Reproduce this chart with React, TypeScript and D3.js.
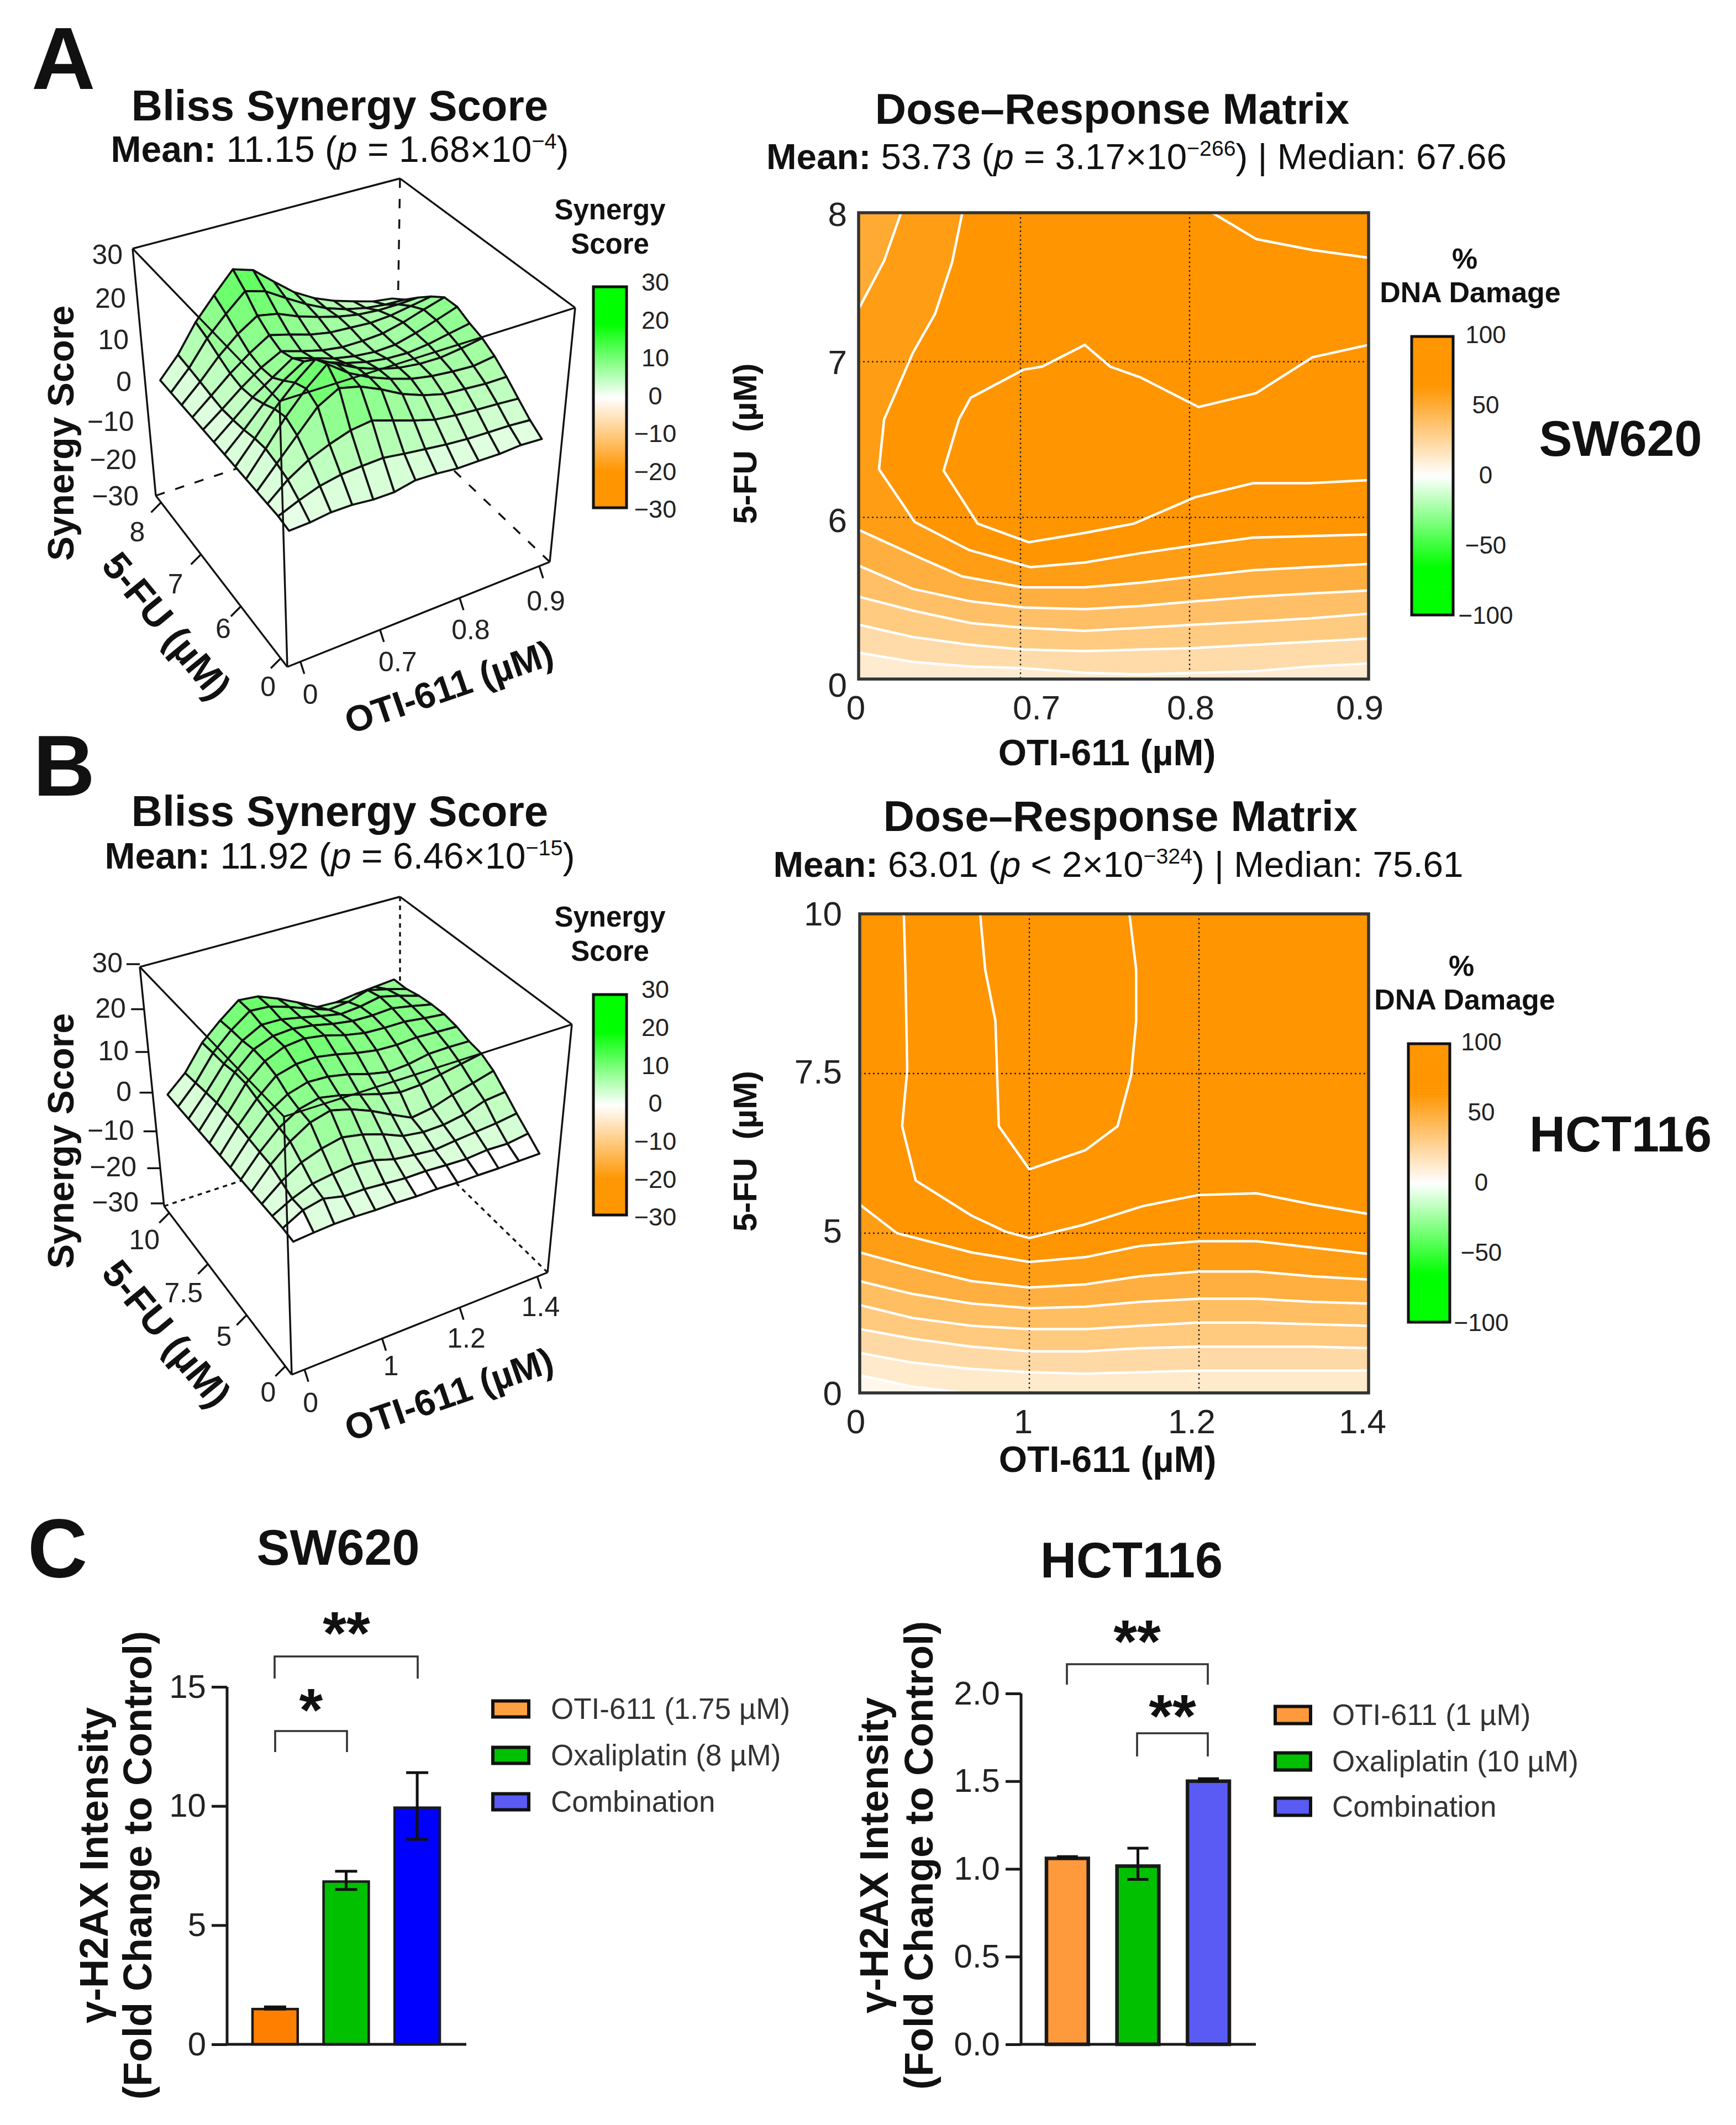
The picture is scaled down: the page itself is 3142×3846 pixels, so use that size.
import { useEffect, useRef } from "react";
import * as d3 from "d3";

const FONT = "'Liberation Sans', Arial, sans-serif";
const INK = "#111";
type Pt = [number, number];

// synergy surface values, rows are 5-FU steps (front to back), columns OTI-611 steps (left to right)
const SW620_SURFACE = [
  [2.5, 2.7, 3.3, 3.3, 2.8, 2.8, 3.8, 3.6, 3.1, 3.1, 3, 3.3, 3],
  [3, 4.9, 6.5, 7.4, 7.7, 7.9, 7.2, 6.6, 6, 5.6, 5.4, 5.3, 4.9],
  [3, 6.8, 9.6, 11.5, 13, 13.6, 12.1, 10.5, 9.1, 8.5, 8.1, 7.8, 7.4],
  [3, 7.7, 12.4, 17.1, 19.6, 18.5, 16.4, 13.9, 12.1, 10.8, 10.4, 10, 10],
  [3, 8.3, 13.8, 18.5, 22.3, 19, 16.6, 14.8, 13.3, 12.4, 11.9, 11.6, 12.3],
  [3, 7.9, 13, 17.3, 20.9, 18.5, 16.2, 14.5, 13.3, 12.7, 12.6, 13.2, 14],
  [3, 7.1, 11.5, 15.2, 18, 16.4, 14.8, 13.6, 12.9, 12.7, 13.2, 14.1, 15],
  [3, 6.6, 10.3, 13.3, 16.2, 14.8, 13.3, 12.4, 11.9, 12.1, 13.3, 14.8, 16.4],
  [3, 6.3, 9.8, 12.9, 15.2, 13.8, 12.6, 11.9, 11.9, 12.2, 13.3, 14.8, 16.2],
  [3, 6.6, 10.3, 13.5, 16.2, 15, 13.6, 12.7, 12.4, 12.1, 12.4, 13.2, 14],
  [3, 7, 11.5, 15.2, 18, 17.1, 15.2, 13.7, 12.4, 11.5, 11.1, 11.1, 11.3],
  [3, 7.4, 12.9, 17.1, 20.9, 19.6, 16.8, 14.1, 11.8, 10.2, 9.1, 8.5, 8.3],
  [3, 7.7, 13.9, 18.7, 23.2, 21.8, 18, 14.3, 11.6, 9.6, 8.1, 6.7, 6],
];

const HCT116_SURFACE = [
  [2.7, 3.1, 3.4, 3.4, 3.2, 3.2, 3, 3, 2.8, 2.8, 2.7, 2.7, 2.7],
  [3, 5.5, 6.5, 5.4, 5.4, 5, 4.6, 4.6, 4.3, 4.1, 4.5, 4.3, 5],
  [3, 5.4, 7.2, 7.9, 8.4, 7.8, 6.4, 5.8, 5.3, 5.8, 6.2, 6.6, 7.3],
  [3, 6.6, 9.4, 11, 12, 11.1, 9.6, 7.6, 6.9, 7, 7.8, 9.4, 9.9],
  [3, 7.7, 11.5, 14.3, 15.5, 14.3, 12.4, 10, 7.7, 8.4, 9.9, 11.1, 12.4],
  [3, 7.9, 12, 14.7, 15.8, 14.9, 13.6, 12.2, 11.1, 11.3, 12.2, 13.1, 14],
  [3, 8.2, 12.7, 15.5, 16.8, 16.6, 15.7, 14.3, 13.3, 13.6, 14.5, 14.6, 14.5],
  [3, 8.5, 13.3, 17.1, 18.3, 18.5, 17.7, 16.6, 15.8, 15.6, 15.9, 15.7, 15.5],
  [3, 8.5, 14.1, 17.8, 19.7, 20.2, 19.5, 18.2, 17.3, 17.1, 17.1, 16.5, 16],
  [3, 8.3, 14, 17.9, 19.6, 19.9, 19.3, 18.3, 17.6, 17.5, 17.8, 16.9, 15.9],
  [3, 7.9, 13.3, 17.3, 19.6, 19.5, 18.6, 17.6, 16.7, 17.1, 18, 16.9, 15.5],
  [3, 7.4, 13.1, 17.1, 20.2, 19.9, 18.5, 16.8, 15.2, 15.7, 17.1, 16, 14.7],
  [3, 6.9, 12.8, 16.7, 20.1, 19.7, 17.9, 15.7, 13.3, 13.1, 13.7, 14.1, 14.5],
];

const SYNERGY_TICKS = [30, 20, 10, 0, -10, -20, -30];
const DAMAGE_TICKS = [100, 50, 0, -50, -100];

const SW620_OTI = ["0", "0.7", "0.8", "0.9"];
const SW620_FU = ["0", "6", "7", "8"];
const HCT116_OTI = ["0", "1", "1.2", "1.4"];
const HCT116_FU = ["0", "5", "7.5", "10"];

// contour lines of the dose-response matrix, in dose steps [oti step, 5-FU step]
const SW620_CORNER: Pt[] = [[0, 2.38], [0.15, 2.69], [0.25, 3]];
const SW620_OUTER: Pt[] = [[0.61, 3], [0.55, 2.68], [0.45, 2.35], [0.32, 2.1], [0.15, 1.67], [0.12, 1.35], [0.33, 1.01], [0.65, 0.83], [1.01, 0.72], [1.33, 0.75], [1.66, 0.81], [1.98, 0.86], [2.32, 0.91], [2.65, 0.92], [3, 0.93]];
const SW620_INNER: Pt[] = [[3, 2.15], [2.67, 2.07], [2.34, 1.84], [2, 1.75], [1.66, 1.94], [1.48, 2.01], [1.33, 2.15], [1.08, 2.01], [0.97, 1.99], [0.66, 1.81], [0.59, 1.67], [0.5, 1.34], [0.7, 1], [1, 0.88], [1.33, 0.94], [1.62, 1], [1.98, 1.17], [2.32, 1.26], [2.65, 1.26], [3, 1.28]];
const SW620_TOP_RIGHT: Pt[] = [[2.08, 3], [2.34, 2.83], [2.67, 2.76], [3, 2.71]];
const SW620_BAND_1: Pt[] = [[0, 0.96], [0.36, 0.78], [0.61, 0.66], [0.97, 0.59], [1.33, 0.59], [1.66, 0.62], [1.98, 0.66], [2.32, 0.7], [2.65, 0.72], [3, 0.74]];
const SW620_BAND_2: Pt[] = [[0, 0.73], [0.32, 0.58], [0.66, 0.5], [0.97, 0.46], [1.33, 0.45], [1.66, 0.47], [1.98, 0.5], [2.32, 0.53], [2.65, 0.55], [3, 0.57]];
const SW620_BAND_3: Pt[] = [[0, 0.53], [0.32, 0.44], [0.66, 0.36], [0.97, 0.33], [1.33, 0.31], [1.66, 0.33], [1.98, 0.35], [2.32, 0.37], [2.65, 0.39], [3, 0.42]];
const SW620_BAND_4: Pt[] = [[0, 0.35], [0.32, 0.27], [0.66, 0.22], [0.97, 0.19], [1.33, 0.18], [1.66, 0.19], [1.98, 0.2], [2.32, 0.22], [2.65, 0.24], [3, 0.26]];
const SW620_BAND_5: Pt[] = [[0, 0.17], [0.32, 0.11], [0.66, 0.08], [0.97, 0.07], [1.33, 0.04], [1.66, 0.03], [1.98, 0.04], [2.32, 0.05], [2.65, 0.08], [3, 0.1]];

const HCT116_OUTER: Pt[] = [[0.26, 3], [0.27, 2.62], [0.28, 2.02], [0.25, 1.67], [0.33, 1.33], [0.66, 1.11], [0.86, 1.01], [1, 0.97], [1.31, 1.05], [1.67, 1.17], [2, 1.24], [2.34, 1.25], [2.67, 1.18], [3, 1.12]];
const HCT116_INNER: Pt[] = [[0.71, 3], [0.74, 2.65], [0.8, 2.33], [0.82, 1.67], [1, 1.4], [1.33, 1.52], [1.52, 1.67], [1.6, 1.99], [1.63, 2.33], [1.63, 2.65], [1.59, 3]];
const HCT116_BAND_1: Pt[] = [[0, 1.18], [0.22, 1], [0.66, 0.88], [1, 0.82], [1.33, 0.85], [1.65, 0.92], [2, 0.95], [2.34, 0.95], [2.67, 0.91], [3, 0.87]];
const HCT116_BAND_2: Pt[] = [[0, 0.88], [0.31, 0.79], [0.66, 0.7], [1, 0.66], [1.33, 0.68], [1.65, 0.73], [2, 0.76], [2.34, 0.76], [2.67, 0.73], [3, 0.71]];
const HCT116_BAND_3: Pt[] = [[0, 0.7], [0.31, 0.62], [0.66, 0.56], [1, 0.53], [1.33, 0.54], [1.65, 0.57], [2, 0.59], [2.34, 0.59], [2.67, 0.57], [3, 0.56]];
const HCT116_BAND_4: Pt[] = [[0, 0.55], [0.31, 0.47], [0.66, 0.42], [1, 0.4], [1.33, 0.4], [1.65, 0.42], [2, 0.44], [2.34, 0.44], [2.67, 0.43], [3, 0.42]];
const HCT116_BAND_5: Pt[] = [[0, 0.4], [0.31, 0.34], [0.66, 0.29], [1, 0.26], [1.33, 0.26], [1.65, 0.28], [2, 0.29], [2.34, 0.29], [2.67, 0.29], [3, 0.28]];
const HCT116_BAND_6: Pt[] = [[0, 0.25], [0.31, 0.19], [0.66, 0.15], [1, 0.13], [1.33, 0.12], [1.65, 0.13], [2, 0.14], [2.34, 0.14], [2.67, 0.14], [3, 0.14]];
const HCT116_BAND_7: Pt[] = [[0, 0.11], [0.31, 0.04], [0.62, 0]];

// bars in panel C
const TREATMENTS = ["OTI-611", "Oxaliplatin", "Combination"];
const SW620_MEANS = [1.48, 6.83, 9.93];
const SW620_ERR_HI = [1.57, 7.26, 11.4];
const SW620_ERR_LO = [1.48, 6.5, 8.6];
const SW620_LEGEND = ["OTI-611 (1.75 µM)", "Oxaliplatin (8 µM)", "Combination"];
const HCT116_MEANS = [1.06, 1.016, 1.5];
const HCT116_ERR_HI = [1.07, 1.118, 1.514];
const HCT116_ERR_LO = [1.06, 0.94, 1.5];
const HCT116_LEGEND = ["OTI-611 (1 µM)", "Oxaliplatin (10 µM)", "Combination"];

const synergyColor = d3.scaleLinear<string>().domain([-30, -20, 0, 20, 30]).range(["#ff9500", "#ff9500", "#ffffff", "#00ff00", "#00ff00"]);
const damageColor = d3.scaleLinear<string>().domain([-100, -65, 0, 65, 100]).range(["#00ff00", "#00ff00", "#ffffff", "#ff9500", "#ff9500"]);
const facetColor = d3.scaleLinear<string>().domain([0, 35]).range(["#ffffff", "#00ff00"]);

type G = d3.Selection<SVGGElement, unknown, null, undefined>;

function label(g: G, x: number, y: number, text: string, size: number, opts: { bold?: boolean; anchor?: string; rotate?: number; fill?: string } = {}) {
  return g
    .append("text")
    .attr("transform", `translate(${x},${y}) rotate(${opts.rotate ?? 0})`)
    .attr("text-anchor", opts.anchor ?? "middle")
    .attr("font-family", FONT)
    .attr("font-size", size)
    .attr("font-weight", opts.bold ? 700 : 400)
    .attr("fill", opts.fill ?? INK)
    .text(text);
}

// mixed bold / italic / superscript line
type Seg = { t: string; b?: boolean; i?: boolean; sup?: boolean };
function richLine(g: G, x: number, y: number, size: number, segs: Seg[]) {
  const text = g.append("text").attr("x", x).attr("y", y).attr("text-anchor", "middle").attr("font-family", FONT).attr("font-size", size).attr("fill", INK).attr("xml:space", "preserve");
  let lift = 0;
  segs.forEach((s) => {
    const target = s.sup ? -size * 0.36 : 0;
    text
      .append("tspan")
      .attr("dy", target - lift)
      .attr("font-weight", s.b ? 700 : 400)
      .attr("font-style", s.i ? "italic" : "normal")
      .attr("font-size", s.sup ? size * 0.6 : size)
      .text(s.t);
    lift = target;
  });
}

function meanLine(value: string, rel: string, base: string, exp: string, median?: string): Seg[] {
  const segs: Seg[] = [{ t: "Mean: ", b: true }, { t: `${value} (` }, { t: "p", i: true }, { t: ` ${rel} ${base}×10` }, { t: exp, sup: true }, { t: ")" }];
  if (median) segs.push({ t: ` | Median: ${median}` });
  return segs;
}

// the box corners on the page, f=front l=left r=right b=back; floor and ceiling
type Box = { floor: { f: Pt; l: Pt; r: Pt; b: Pt }; top: { f: Pt; l: Pt; r: Pt; b: Pt } };

function projector(box: Box) {
  const k = 0.138; // perspective along the z axis
  const heightOf = d3.scaleLinear().domain([-30, 30]).range([0, 1]);
  const bilerp = (q: Box["floor"], u: number, v: number, a: 0 | 1) =>
    q.f[a] * (1 - u) * (1 - v) + q.r[a] * u * (1 - v) + q.l[a] * (1 - u) * v + q.b[a] * u * v;
  return (u: number, v: number, z: number): Pt => {
    const t = heightOf(z);
    const w = (t * (1 - k)) / (1 - k * t);
    return [
      bilerp(box.floor, u, v, 0) * (1 - w) + bilerp(box.top, u, v, 0) * w,
      bilerp(box.floor, u, v, 1) * (1 - w) + bilerp(box.top, u, v, 1) * w,
    ];
  };
}

type SurfaceOpts = {
  box: Box;
  z: number[][];
  oti: string[];
  fu: string[];
  whiteBelow: number;
  dash: string;
  zTicks: boolean;
  gapTop: number;
  gapSpan: number;
  zLabelDy: (t: number) => number;
  fuOffsets: Pt[];
  otiOffsets: Pt[];
  fuTitle: Pt;
  otiTitle: Pt;
  zTitle: Pt;
};

function surfacePlot(g: G, o: SurfaceOpts) {
  const p = projector(o.box);
  const line = d3.line();
  const edge = (a: Pt, b: Pt, dash?: string) =>
    g.append("path").attr("d", line([a, b])).attr("fill", "none").attr("stroke", INK).attr("stroke-width", 3.4).attr("stroke-dasharray", dash ?? null);
  const { floor, top } = o.box;

  edge(top.b, floor.b, o.dash);
  edge(floor.l, floor.b, o.dash);
  edge(floor.r, floor.b, o.dash);
  edge(top.l, top.b);
  edge(top.b, top.r);
  edge(top.l, floor.l);
  edge(top.r, floor.r);

  const uOf = d3.scaleLinear().domain([0, 12]).range([0.02, 0.925]);
  const vOf = d3.scaleLinear().domain([0, 12]).range([0, 0.92]);
  // painter's order, far corner first
  for (let j = 11; j >= 0; j--) {
    for (let i = 11; i >= 0; i--) {
      const corners: [number, number][] = [[i, j], [i + 1, j], [i + 1, j + 1], [i, j + 1]];
      const mean = d3.mean(corners, ([a, b]) => o.z[b][a])!;
      const pts = corners.map(([a, b]) => p(uOf(a), vOf(b), o.z[b][a]));
      g.append("path")
        .attr("d", line(pts) + "Z")
        .attr("fill", mean < o.whiteBelow ? "#ffffff" : facetColor(mean))
        .attr("stroke", INK)
        .attr("stroke-width", 3.7)
        .attr("stroke-linejoin", "round");
    }
  }

  edge(top.l, top.f);
  edge(top.r, top.f);
  edge(top.f, floor.f);
  edge(floor.l, floor.f);
  edge(floor.f, floor.r);

  // z axis
  SYNERGY_TICKS.forEach((t) => {
    const [x, y] = p(0, 1, t);
    const gap = o.gapTop + o.gapSpan * ((30 - t) / 60);
    if (o.zTicks) edge([x - 24, y - 5], [x, y - 5]);
    label(g, x - gap, y + o.zLabelDy(t), t < 0 ? `−${-t}` : `${t}`, 50, { anchor: "end", fill: "#222" });
  });

  const fuAt = d3.scalePoint().domain(o.fu).range([0.05, 0.96]);
  o.fu.forEach((t, i) => {
    const [x, y] = p(0, fuAt(t)!, -30);
    edge([x, y], [x - 18, y + 18]);
    label(g, x + o.fuOffsets[i][0], y + o.fuOffsets[i][1] + 18, t, 50, { fill: "#222" });
  });
  const otiAt = d3.scalePoint().domain(o.oti).range([0.05, 0.96]);
  o.oti.forEach((t, i) => {
    const [x, y] = p(otiAt(t)!, 0, -30);
    edge([x, y], [x + 7, y + 22]);
    label(g, x + o.otiOffsets[i][0], y + o.otiOffsets[i][1] + 18, t, 50, { fill: "#222" });
  });

  label(g, o.zTitle[0], o.zTitle[1], "Synergy Score", 66, { bold: true, rotate: -90 });
  label(g, o.fuTitle[0], o.fuTitle[1], "5-FU (µM)", 70, { bold: true, rotate: 50.5 });
  label(g, o.otiTitle[0], o.otiTitle[1], "OTI-611 (µM)", 66, { bold: true, rotate: -19 });
}

function colorBar(g: G, x: number, top: number, bottom: number, width: number, lo: number, hi: number, color: (v: number) => string) {
  const y = d3.scaleLinear().domain([lo, hi]).range([bottom, top]);
  const step = (hi - lo) / 200;
  d3.range(lo, hi, step).forEach((v) => {
    g.append("rect").attr("x", x).attr("y", y(v + step)).attr("width", width).attr("height", y(v) - y(v + step) + 0.6).attr("fill", color(v + step / 2));
  });
  g.append("rect").attr("x", x).attr("y", top).attr("width", width).attr("height", bottom - top).attr("fill", "none").attr("stroke", INK).attr("stroke-width", 5);
}

function tickBar(g: G, ticks: number[], cx: number, top: number, bottom: number, size: number) {
  const y = d3.scaleLinear().domain([ticks[ticks.length - 1], ticks[0]]).range([bottom, top]);
  ticks.forEach((t) => label(g, cx, y(t) + size * 0.36, t < 0 ? `−${-t}` : `${t}`, size, { fill: "#222" }));
}

type Contour = { pts: Pt[]; via: Pt[]; level: number };
type HeatOpts = {
  rect: { x0: number; x1: number; y0: number; y1: number };
  gridX: [number, number];
  gridY: [number, number];
  base: number;
  bands: Contour[];
  lines: Pt[][];
  oti: string[];
  fu: string[];
  otiLabelAt: number[];
  fuLabelAt: number[];
  fuLabelEnd: number;
  xTitleY: number;
};

function heatPlot(g: G, o: HeatOpts) {
  const { x0, x1, y0, y1 } = o.rect;
  const x = d3.scaleLinear().domain([0, 3]).range([x0, x1]);
  const y = d3.scaleLinear().domain([0, 3]).range([y1, y0]);
  const xTick = d3.scalePoint().domain(o.oti).range(o.gridX);
  const yTick = d3.scalePoint().domain(o.fu).range(o.gridY);
  const path = d3.line<Pt>().x((d) => x(d[0])).y((d) => y(d[1]));

  g.append("rect").attr("x", x0).attr("y", y0).attr("width", x1 - x0).attr("height", y1 - y0).attr("fill", damageColor(o.base));
  o.bands.forEach((b) => {
    g.append("path").attr("d", path([...b.pts, ...b.via]) + "Z").attr("fill", damageColor(b.level));
  });

  // dotted guide lines at the inner doses
  o.oti.slice(1, 3).forEach((t) => {
    g.append("line").attr("x1", xTick(t)!).attr("x2", xTick(t)!).attr("y1", y0).attr("y2", y1).attr("stroke", "#222").attr("stroke-width", 2.4).attr("stroke-dasharray", "3 5");
  });
  o.fu.slice(1, 3).forEach((t) => {
    g.append("line").attr("x1", x0).attr("x2", x1).attr("y1", yTick(t)!).attr("y2", yTick(t)!).attr("stroke", "#222").attr("stroke-width", 2.4).attr("stroke-dasharray", "3 5");
  });

  [...o.bands.map((b) => b.pts), ...o.lines].forEach((pts) => {
    g.append("path").attr("d", path(pts)).attr("fill", "none").attr("stroke", "#fff").attr("stroke-width", 4.5);
  });

  g.append("rect").attr("x", x0).attr("y", y0).attr("width", x1 - x0).attr("height", y1 - y0).attr("fill", "none").attr("stroke", "#333").attr("stroke-width", 5.5);

  o.fu.forEach((t, i) => label(g, o.fuLabelEnd, o.fuLabelAt[i] + 22, t, 62, { anchor: "end", fill: "#222" }));
  o.oti.forEach((t, i) => label(g, o.otiLabelAt[i], y1 + 73, t, 62, { fill: "#222" }));
  label(g, (x0 + x1) / 2 - 12, o.xTitleY, "OTI-611 (µM)", 66, { bold: true });
  label(g, 1349, (y0 + y1) / 2 - 4, "5-FU\u00a0 (µM)", 60, { bold: true, rotate: -90 }).attr("dy", 20);
}

type BarOpts = {
  means: number[];
  hi: number[];
  lo: number[];
  fills: string[];
  swatches: string[];
  names: string[];
  yMax: number;
  yTicks: number[];
  format: string;
  yRange: [number, number];
  axisX: number;
  axisEnd: number;
  band: [number, number];
  padding: number;
  barStroke: number;
  capHalf: number;
  brackets: { from: number; to: number; y: number; drop: number; stars: string; starX: number; starY: number }[];
  legend: { x: number; w: number; h: number; textX: number; ys: number[] };
  titleXs: [number, number];
  titleY: number;
};

function barPlot(g: G, o: BarOpts) {
  const x = d3.scaleBand().domain(TREATMENTS).range(o.band).paddingInner(o.padding).paddingOuter(0);
  const y = d3.scaleLinear().domain([0, o.yMax]).range(o.yRange);

  TREATMENTS.forEach((t, i) => {
    g.append("rect").attr("x", x(t)!).attr("y", y(o.means[i])).attr("width", x.bandwidth()).attr("height", y(0) - y(o.means[i])).attr("fill", o.fills[i]).attr("stroke", "#1a1a1a").attr("stroke-width", o.barStroke);
    const cx = x(t)! + x.bandwidth() / 2;
    g.append("path")
      .attr("d", d3.line()([[cx, y(o.hi[i])], [cx, y(o.lo[i])]]))
      .attr("stroke", INK).attr("stroke-width", 5);
    [o.hi[i], o.lo[i]].forEach((v) => {
      g.append("path").attr("d", d3.line()([[cx - o.capHalf, y(v)], [cx + o.capHalf, y(v)]])).attr("stroke", INK).attr("stroke-width", 5);
    });
  });

  const axis = g.append("g").attr("transform", `translate(${o.axisX},0)`);
  axis.call(d3.axisLeft(y).tickValues(o.yTicks).tickSize(28).tickPadding(10).tickSizeOuter(0).tickFormat(d3.format(o.format)) as any);
  axis.selectAll("path,line").attr("stroke", "#1a1a1a").attr("stroke-width", 5);
  axis.selectAll("text").attr("font-family", FONT).attr("font-size", 60).attr("fill", "#222");
  axis.select(".domain").attr("d", `M0,${o.yRange[1]}V${o.yRange[0]}`);
  g.append("line").attr("x1", o.axisX).attr("x2", o.axisEnd).attr("y1", y(0)).attr("y2", y(0)).attr("stroke", "#1a1a1a").attr("stroke-width", 5);

  o.brackets.forEach((b) => {
    g.append("path")
      .attr("d", d3.line()([[b.from, b.y + b.drop], [b.from, b.y], [b.to, b.y], [b.to, b.y + b.drop]]))
      .attr("fill", "none").attr("stroke", "#333").attr("stroke-width", 3.6);
    label(g, b.starX, b.starY + 52, b.stars, 110, { bold: true });
  });

  o.names.forEach((n, i) => {
    const cy = o.legend.ys[i];
    g.append("rect").attr("x", o.legend.x).attr("y", cy - o.legend.h / 2).attr("width", o.legend.w).attr("height", o.legend.h).attr("fill", o.swatches[i]).attr("stroke", "#111").attr("stroke-width", 6);
    label(g, o.legend.textX, cy + 18, n, 53, { anchor: "start", fill: "#333" });
  });

  label(g, o.titleXs[0], o.titleY, "γ-H2AX Intensity", 72, { bold: true, rotate: -90 }).attr("dy", 24);
  label(g, o.titleXs[1], o.titleY, "(Fold Change to Control)", 72, { bold: true, rotate: -90 }).attr("dy", 24);
}

export default function App() {
  const ref = useRef<SVGSVGElement>(null);

  useEffect(() => {
    const svg = d3.select(ref.current!);
    svg.selectAll("*").remove();
    const g = svg.append("g") as unknown as G;

    label(g, 57, 161, "A", 160, { bold: true, anchor: "start" });
    label(g, 60, 1440, "B", 155, { bold: true, anchor: "start" });
    label(g, 50, 2855, "C", 150, { bold: true, anchor: "start" });

    // A, synergy
    label(g, 615, 218, "Bliss Synergy Score", 78, { bold: true });
    richLine(g, 615, 293, 66, meanLine("11.15", "=", "1.68", "−4"));
    surfacePlot(g, {
      box: {
        floor: { f: [520, 1207], l: [282, 897], r: [995, 1017], b: [717, 752] },
        top: { f: [506, 726], l: [240, 450], r: [1041, 557], b: [724, 323] },
      },
      z: SW620_SURFACE,
      oti: SW620_OTI,
      fu: SW620_FU,
      whiteBelow: 0,
      dash: "17 20",
      zTicks: false,
      gapTop: 18,
      gapSpan: 13,
      zLabelDy: (t) => 18 + Math.max(0, t - 10) * 0.5,
      fuOffsets: [[-23, 50], [-32, 40], [-46, 53], [-43, 53]],
      otiOffsets: [[18, 58], [32, 57], [20, 57], [12, 62]],
      fuTitle: [283, 1148],
      otiTitle: [820, 1265],
      zTitle: [133, 784],
    });
    label(g, 1104, 397, "Synergy", 51, { bold: true });
    label(g, 1104, 459, "Score", 51, { bold: true });
    colorBar(g, 1074, 519, 919, 60, -30, 30, synergyColor);
    tickBar(g, SYNERGY_TICKS, 1186, 510, 921, 45);

    // A, matrix
    label(g, 2013, 224, "Dose–Response Matrix", 78, { bold: true });
    richLine(g, 2057, 306, 65.5, meanLine("53.73", "=", "3.17", "−266", "67.66"));
    heatPlot(g, {
      rect: { x0: 1554, x1: 2477, y0: 385, y1: 1229 },
      gridX: [1541, 2459],
      gridY: [1218, 373],
      base: 75,
      bands: [
        { pts: SW620_OUTER, via: [[3, 0], [0, 0], [0, 3]], level: 60 },
        { pts: SW620_CORNER, via: [[0, 3]], level: 52 },
        { pts: SW620_BAND_1, via: [[3, 0], [0, 0]], level: 49 },
        { pts: SW620_BAND_2, via: [[3, 0], [0, 0]], level: 39 },
        { pts: SW620_BAND_3, via: [[3, 0], [0, 0]], level: 32 },
        { pts: SW620_BAND_4, via: [[3, 0], [0, 0]], level: 22 },
        { pts: SW620_BAND_5, via: [[3, 0], [0, 0]], level: 12 },
      ],
      lines: [SW620_INNER, SW620_TOP_RIGHT],
      oti: SW620_OTI,
      fu: SW620_FU,
      otiLabelAt: [1549, 1876, 2155, 2461],
      fuLabelAt: [1239, 941, 655, 387],
      fuLabelEnd: 1533,
      xTitleY: 1385,
    });
    label(g, 2651, 486, "%", 52, { bold: true });
    label(g, 2661, 547, "DNA Damage", 52, { bold: true });
    colorBar(g, 2555, 609, 1113, 75, -100, 100, damageColor);
    tickBar(g, DAMAGE_TICKS, 2689, 605, 1113, 44);
    label(g, 2933, 825, "SW620", 90, { bold: true });

    // B, synergy
    label(g, 615, 1495, "Bliss Synergy Score", 78, { bold: true });
    richLine(g, 615, 1572, 66, meanLine("11.92", "=", "6.46", "−15"));
    surfacePlot(g, {
      box: {
        floor: { f: [528, 2488], l: [297, 2183], r: [991, 2303], b: [724, 2042] },
        top: { f: [514, 2021], l: [253, 1750], r: [1035, 1854], b: [724, 1623] },
      },
      z: HCT116_SURFACE,
      oti: HCT116_OTI,
      fu: HCT116_FU,
      whiteBelow: 3.9,
      dash: "8 8",
      zTicks: true,
      gapTop: 31,
      gapSpan: 15,
      zLabelDy: () => 10,
      fuOffsets: [[-31, 46], [-41, 38], [-44, 51], [-45, 48]],
      otiOffsets: [[11, 59], [16, 48], [12, 54], [6, 54]],
      fuTitle: [283, 2429],
      otiTitle: [820, 2545],
      zTitle: [133, 2065],
    });
    label(g, 1104, 1677, "Synergy", 51, { bold: true });
    label(g, 1104, 1739, "Score", 51, { bold: true });
    colorBar(g, 1074, 1800, 2199, 60, -30, 30, synergyColor);
    tickBar(g, SYNERGY_TICKS, 1186, 1790, 2202, 45);

    // B, matrix
    label(g, 2028, 1504, "Dose–Response Matrix", 78, { bold: true });
    richLine(g, 2024, 1587, 65.5, meanLine("63.01", "<", "2", "−324", "75.61"));
    heatPlot(g, {
      rect: { x0: 1556, x1: 2477, y0: 1654, y1: 2521 },
      gridX: [1556, 2477],
      gridY: [2521, 1654],
      base: 75,
      bands: [
        { pts: HCT116_BAND_1, via: [[3, 0], [0, 0]], level: 60 },
        { pts: HCT116_BAND_2, via: [[3, 0], [0, 0]], level: 49 },
        { pts: HCT116_BAND_3, via: [[3, 0], [0, 0]], level: 40 },
        { pts: HCT116_BAND_4, via: [[3, 0], [0, 0]], level: 33 },
        { pts: HCT116_BAND_5, via: [[3, 0], [0, 0]], level: 23 },
        { pts: HCT116_BAND_6, via: [[3, 0], [0, 0]], level: 13 },
        { pts: HCT116_BAND_7, via: [[0, 0]], level: 5 },
      ],
      lines: [HCT116_OUTER, HCT116_INNER],
      oti: HCT116_OTI,
      fu: HCT116_FU,
      otiLabelAt: [1549, 1852, 2157, 2466],
      fuLabelAt: [2521, 2227, 1939, 1653],
      fuLabelEnd: 1524,
      xTitleY: 2664,
    });
    label(g, 2645, 1766, "%", 52, { bold: true });
    label(g, 2651, 1827, "DNA Damage", 52, { bold: true });
    colorBar(g, 2549, 1889, 2393, 75, -100, 100, damageColor);
    tickBar(g, DAMAGE_TICKS, 2681, 1885, 2393, 44);
    label(g, 2933, 2084, "HCT116", 90, { bold: true });

    // C
    label(g, 612, 2832, "SW620", 90, { bold: true });
    barPlot(g, {
      means: SW620_MEANS,
      hi: SW620_ERR_HI,
      lo: SW620_ERR_LO,
      fills: ["#ff8000", "#00c000", "#0000ff"],
      swatches: ["#ffa040", "#00c000", "#5a5af5"],
      names: SW620_LEGEND,
      yMax: 15,
      yTicks: [0, 5, 10, 15],
      format: "d",
      yRange: [3700, 3053],
      axisX: 411,
      axisEnd: 844,
      band: [457, 796],
      padding: 0.364,
      barStroke: 4.5,
      capHalf: 20,
      brackets: [
        { from: 497, to: 756, y: 2998, drop: 40, stars: "**", starX: 627, starY: 2941 },
        { from: 498, to: 628, y: 3133, drop: 38, stars: "*", starX: 563, starY: 3080 },
      ],
      legend: { x: 892, w: 65, h: 29, textX: 997, ys: [3093, 3177, 3261] },
      titleXs: [171, 250],
      titleY: 3376,
    });

    label(g, 2048, 2855, "HCT116", 90, { bold: true });
    barPlot(g, {
      means: HCT116_MEANS,
      hi: HCT116_ERR_HI,
      lo: HCT116_ERR_LO,
      fills: ["#ff9a3c", "#00c000", "#5a5af5"],
      swatches: ["#ff9a3c", "#00c000", "#5a5af5"],
      names: HCT116_LEGEND,
      yMax: 2,
      yTicks: [0, 0.5, 1, 1.5, 2],
      format: ".1f",
      yRange: [3700, 3065],
      axisX: 1848,
      axisEnd: 2273,
      band: [1894, 2225],
      padding: 0.407,
      barStroke: 6.5,
      capHalf: 19,
      brackets: [
        { from: 1931, to: 2186, y: 3012, drop: 37, stars: "**", starX: 2058, starY: 2956 },
        { from: 2058, to: 2186, y: 3137, drop: 42, stars: "**", starX: 2122, starY: 3091 },
      ],
      legend: { x: 2308, w: 64, h: 31, textX: 2411, ys: [3104, 3188, 3270] },
      titleXs: [1583, 1664],
      titleY: 3358,
    });
  }, []);

  return <svg ref={ref} width={3142} height={3846} style={{ position: "absolute", left: 0, top: 0, background: "#fff" }} />;
}
